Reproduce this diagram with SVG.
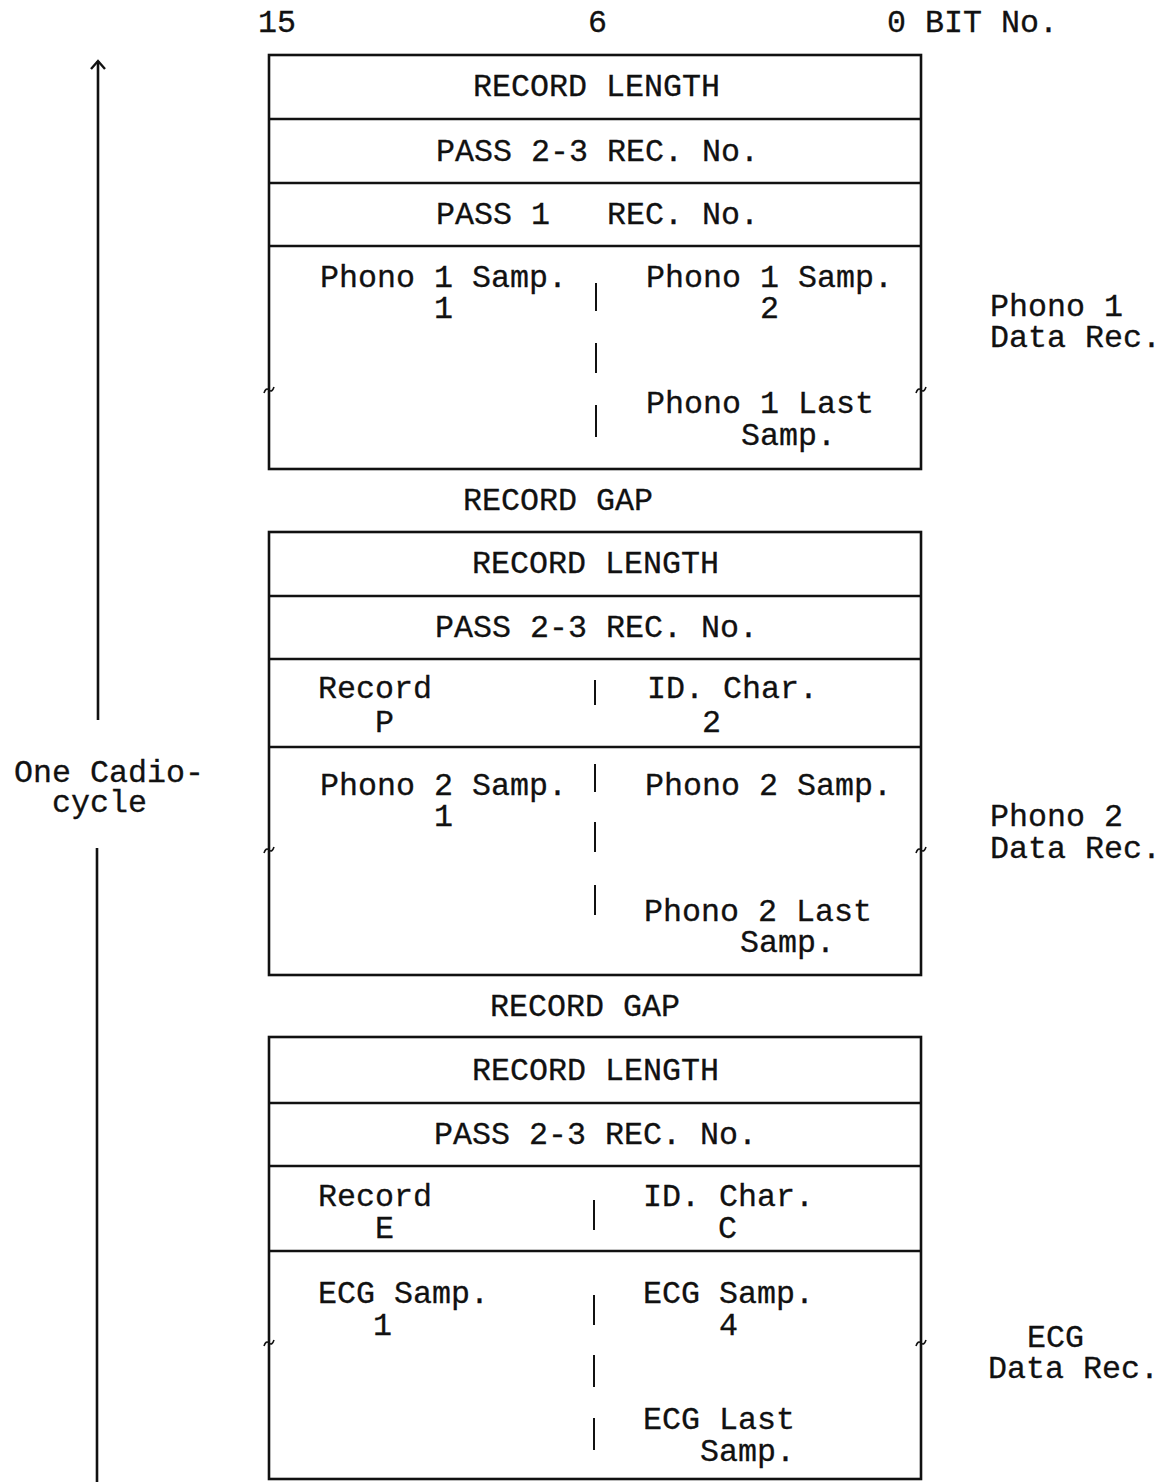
<svg xmlns="http://www.w3.org/2000/svg" width="1163" height="1482" viewBox="0 0 1163 1482">
<style>
text{font-family:"Liberation Mono","DejaVu Sans Mono",monospace;font-size:31.67px;fill:#111;stroke:#111;stroke-width:0.3}
.box{fill:none;stroke:#111;stroke-width:2.6}
.sep{stroke:#111;stroke-width:2.4}
.dash{stroke:#111;stroke-width:2}
.tick{fill:none;stroke:#111;stroke-width:1.6}
</style>
<defs>
<marker id="arr" markerWidth="16" markerHeight="16" refX="12" refY="8" orient="auto" markerUnits="userSpaceOnUse" viewBox="0 0 16 16">
<path d="M4,1 L12,8 L4,15" fill="none" stroke="#111" stroke-width="2.4"/>
</marker>
</defs>
<rect width="1163" height="1482" fill="#fff"/>

<g id="header">
<text x="258" y="32">15</text>
<text x="588" y="32">6</text>
<text x="887" y="32">0 BIT No.</text>
</g>

<g id="phono1-record">
<rect class="box" x="269" y="55" width="652" height="414"/>
<line class="sep" x1="269" y1="119" x2="921" y2="119"/>
<line class="sep" x1="269" y1="183" x2="921" y2="183"/>
<line class="sep" x1="269" y1="246" x2="921" y2="246"/>
<text x="473" y="96">RECORD LENGTH</text>
<text x="436" y="161">PASS 2-3 REC. No.</text>
<text xml:space="preserve" x="436" y="224">PASS 1   REC. No.</text>
<text><tspan x="320" y="287">Phono 1 Samp.</tspan><tspan x="434" y="318">1</tspan></text>
<text><tspan x="646" y="287">Phono 1 Samp.</tspan><tspan x="760" y="318">2</tspan></text>
<text><tspan x="646" y="413">Phono 1 Last</tspan><tspan x="741" y="445">Samp.</tspan></text>
<line class="dash" x1="596" y1="283" x2="596" y2="311"/>
<line class="dash" x1="596" y1="343" x2="596" y2="373"/>
<line class="dash" x1="596" y1="405" x2="596" y2="437"/>
<path class="tick" d="M264,393 q2,-6 5,-3 q3,3 5,-3"/>
<path class="tick" d="M916,393 q2,-6 5,-3 q3,3 5,-3"/>
<text><tspan x="990" y="316">Phono 1</tspan><tspan x="990" y="347">Data Rec.</tspan></text>
</g>

<text id="gap1" x="463" y="510">RECORD GAP</text>

<g id="phono2-record">
<rect class="box" x="269" y="532" width="652" height="443"/>
<line class="sep" x1="269" y1="596" x2="921" y2="596"/>
<line class="sep" x1="269" y1="659" x2="921" y2="659"/>
<line class="sep" x1="269" y1="747" x2="921" y2="747"/>
<text x="472" y="573">RECORD LENGTH</text>
<text x="435" y="637">PASS 2-3 REC. No.</text>
<text><tspan x="318" y="698">Record</tspan><tspan x="375" y="732">P</tspan></text>
<text><tspan x="647" y="698">ID. Char.</tspan><tspan x="702" y="732">2</tspan></text>
<line class="dash" x1="595" y1="680" x2="595" y2="705"/>
<text><tspan x="320" y="795">Phono 2 Samp.</tspan><tspan x="434" y="826">1</tspan></text>
<text x="645" y="795">Phono 2 Samp.</text>
<text><tspan x="644" y="921">Phono 2 Last</tspan><tspan x="740" y="952">Samp.</tspan></text>
<line class="dash" x1="595" y1="764" x2="595" y2="792"/>
<line class="dash" x1="595" y1="822" x2="595" y2="852"/>
<line class="dash" x1="595" y1="885" x2="595" y2="915"/>
<path class="tick" d="M264,853 q2,-6 5,-3 q3,3 5,-3"/>
<path class="tick" d="M916,853 q2,-6 5,-3 q3,3 5,-3"/>
<text><tspan x="990" y="826">Phono 2</tspan><tspan x="990" y="858">Data Rec.</tspan></text>
</g>

<text id="gap2" x="490" y="1016">RECORD GAP</text>

<g id="ecg-record">
<rect class="box" x="269" y="1037" width="652" height="442"/>
<line class="sep" x1="269" y1="1103" x2="921" y2="1103"/>
<line class="sep" x1="269" y1="1166" x2="921" y2="1166"/>
<line class="sep" x1="269" y1="1251" x2="921" y2="1251"/>
<text x="472" y="1080">RECORD LENGTH</text>
<text x="434" y="1144">PASS 2-3 REC. No.</text>
<text><tspan x="318" y="1206">Record</tspan><tspan x="375" y="1238">E</tspan></text>
<text><tspan x="643" y="1206">ID. Char.</tspan><tspan x="718" y="1238">C</tspan></text>
<line class="dash" x1="594" y1="1200" x2="594" y2="1230"/>
<text><tspan x="318" y="1303">ECG Samp.</tspan><tspan x="373" y="1335">1</tspan></text>
<text><tspan x="643" y="1303">ECG Samp.</tspan><tspan x="719" y="1335">4</tspan></text>
<text><tspan x="643" y="1429">ECG Last</tspan><tspan x="700" y="1461">Samp.</tspan></text>
<line class="dash" x1="594" y1="1295" x2="594" y2="1325"/>
<line class="dash" x1="594" y1="1355" x2="594" y2="1387"/>
<line class="dash" x1="594" y1="1418" x2="594" y2="1450"/>
<path class="tick" d="M264,1346 q2,-6 5,-3 q3,3 5,-3"/>
<path class="tick" d="M916,1346 q2,-6 5,-3 q3,3 5,-3"/>
<text><tspan x="1027" y="1347">ECG</tspan><tspan x="988" y="1378">Data Rec.</tspan></text>
</g>

<g id="cycle-label">
<text><tspan x="14" y="782">One Cadio-</tspan><tspan x="52" y="812">cycle</tspan></text>
</g>

<g id="connectors">
<line x1="98" y1="720" x2="98" y2="61" stroke="#111" stroke-width="2.6" marker-end="url(#arr)"/>
<line x1="97" y1="848" x2="97" y2="1482" stroke="#111" stroke-width="2.6"/>
</g>
</svg>
